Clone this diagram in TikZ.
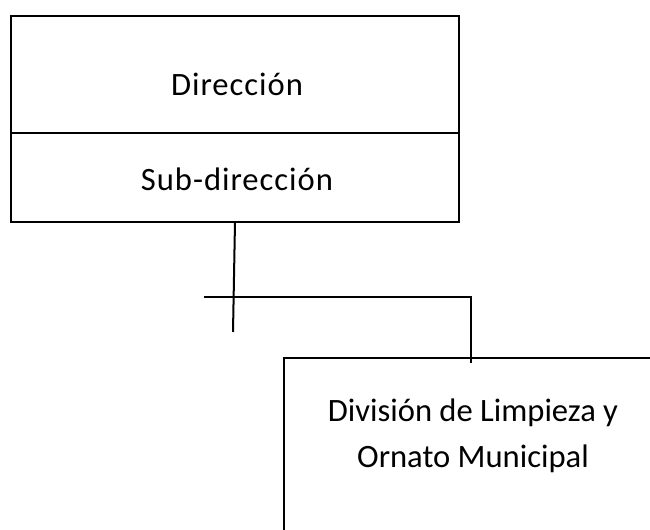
\documentclass[tikz,border=0pt]{standalone}
\usepackage{fontspec}
\setmainfont{Carlito}
\newfontfamily\widefont[LetterSpace=3]{Carlito}
\usetikzlibrary{positioning}

\tikzset{
    unitbox/.style={draw, line width=1.35pt, inner sep=0pt, outer sep=0pt},
    lbl/.style={font=\fontsize{16.3}{23}\selectfont, inner sep=0pt, align=center},
    link/.style={line width=1pt}
}

\begin{document}
\begin{tikzpicture}[x=0.5pt, y=-0.5pt]
        \useasboundingbox (0,0) rectangle (650,530);
        \clip (0,0) rectangle (650,530);

        % boxes
        \node[unitbox, anchor=north west, minimum width=224pt, minimum height=58.5pt] (dir) at (11,16) {};
        \node[unitbox, below=0pt of dir, minimum width=224pt, minimum height=44.5pt] (subdir) {};
        \node[unitbox, anchor=north west, minimum width=189pt, minimum height=120pt] (div) at (284,358) {};

        % texts
        \node[lbl, anchor=base] (dirtxt) at (237,96) {\widefont Dirección};
        \node[lbl, anchor=base] (subdirtxt) at (237,191) {\widefont Sub-dirección};
        \node[lbl, anchor=north] (divtxt) at (473,398) {División de Limpieza y\\Ornato Municipal};

        % connectors
        \coordinate (stub) at (233,332);
        \coordinate (hl) at (204,297);
        \coordinate (hr) at (471,297);

        \draw [link] (subdir.south) -- (stub);
        \draw [link] (hl) -- (hr) -- ([yshift=-2.5pt]hr |- div.north);
    \end{tikzpicture}
\end{document}
